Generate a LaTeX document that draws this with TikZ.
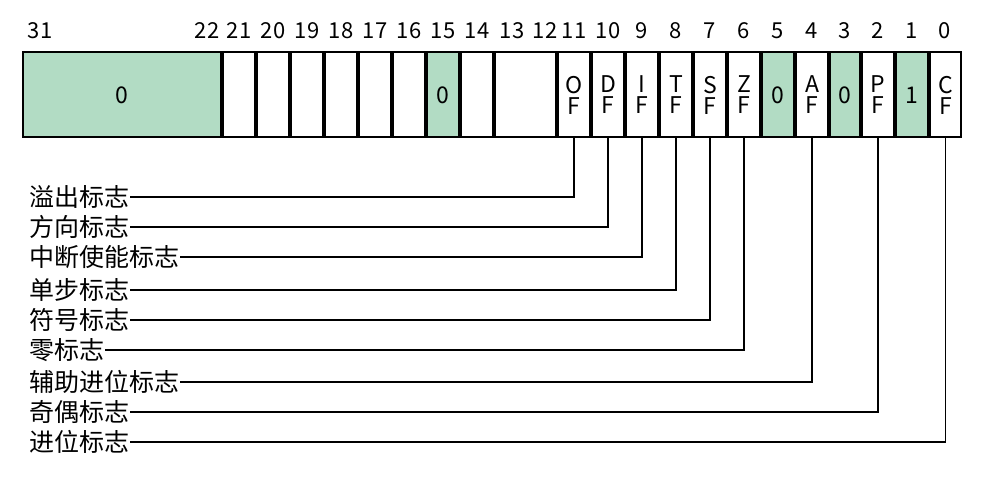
\documentclass[tikz,border=0pt]{standalone}
\usepackage{fontspec}
\setmainfont{Noto Sans CJK SC}
\usetikzlibrary{positioning, calc}
\definecolor{flaggreen}{RGB}{178,220,196}

\begin{document}
\begin{tikzpicture}[x=1pt, y=-1pt,
        cell/.style={draw=black, line width=1.2pt},
        bitno/.style={font=\fontsize{22}{22}\selectfont, inner sep=0pt},
        flagtxt/.style={font=\fontsize{23}{21}\selectfont, align=center, inner sep=0pt},
        flagname/.style={font=\fontsize{25}{25}\selectfont, anchor=west, inner sep=1pt},
        lead/.style={line width=1.2pt}
    ]
        \useasboundingbox (0,0) rectangle (1001,483);
        % cells: left/right/name/fill/text
        \foreach \l/\r/\n/\f/\t in {22/222/hi/flaggreen/0, 222/256/b21/white/, 256/290/b20/white/,
            290/324/b19/white/, 324/358/b18/white/, 358/392/b17/white/, 392/426/b16/white/,
            426/460/b15/flaggreen/0, 460/494/b14/white/, 494/557/b12/white/,
            557/591/of/white/O\\F, 591/625/df/white/D\\F, 625/659/if/white/I\\F, 659/693/tf/white/T\\F,
            693/727/sf/white/S\\F, 727/761/zf/white/Z\\F, 761/795/b5/flaggreen/0, 795/829/af/white/A\\F,
            829/861/b3/flaggreen/0, 861/895/pf/white/P\\F, 895/929/b1/flaggreen/1, 929/962/cf/white/C\\F}
        {
            \draw[cell, fill=\f] (\l+1,52) rectangle (\r-1,137);
            \node[flagtxt] (\n) at ({(\l+\r)/2},95) {\t};
            \coordinate (\n-s) at ({(\l+\r)/2},137);
        }
        % bit numbers
        \node[bitno] (n31) at (40,31) {31};
        \node[bitno] (n22) at (207,31) {22};
        \foreach \x/\v in {239/21, 273/20, 307/19, 341/18, 375/17, 409/16, 443/15, 477/14,
            512/13, 545/12, 574/11, 608/10, 642/9, 676/8, 710/7, 744/6, 778/5, 812/4, 845/3,
            878/2, 912/1, 945/0}
            \node[bitno] (n\v) at (\x,31) {\v};
        % flag names and leads
        \foreach \n/\y/\t in {of/197/溢出标志, df/227/方向标志, if/257/中断使能标志, tf/290/单步标志,
            sf/320/符号标志, zf/350/零标志, af/382/辅助进位标志, pf/412/奇偶标志, cf/442/进位标志}
        {
            \node[flagname] (\n-name) at (28,\y) {\t};
            \draw[lead] (\n-name.east) -| (\n-s);
        }
    \end{tikzpicture}
\end{document}
